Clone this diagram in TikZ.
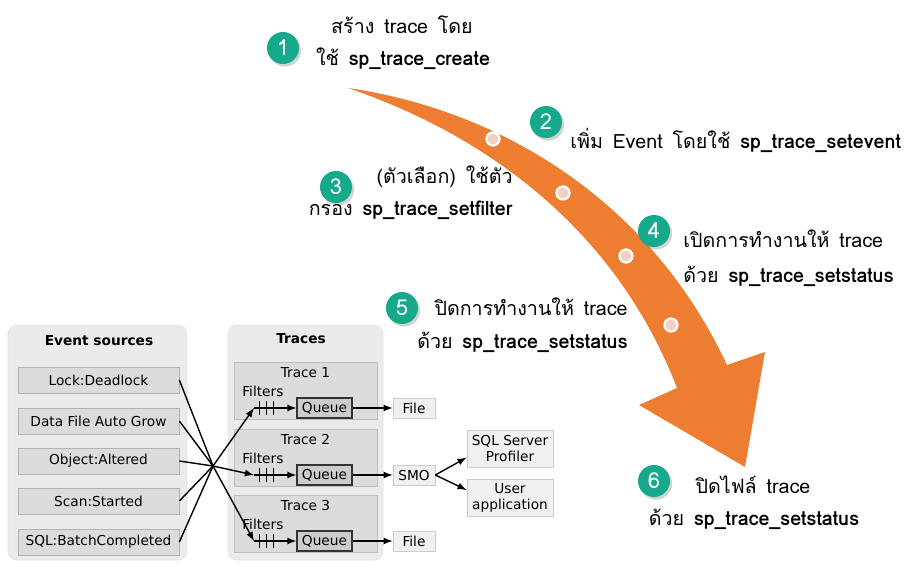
\documentclass[tikz,border=0pt]{standalone}
\usepackage{fontspec}
\newfontfamily\thaifont[Script=Thai]{Loma}
\newfontfamily\boxfont{DejaVu Sans}
\usepackage{tikz}
\usetikzlibrary{arrows, shadows}
\definecolor{flow}{HTML}{ED7D31}
\definecolor{badge}{HTML}{17A98B}
\definecolor{dotpink}{HTML}{F4CFC4}
\definecolor{panelgray}{HTML}{EBEBEB}
\definecolor{boxgray}{HTML}{DCDCDC}
\newcommand{\gap}{\hspace{0.5em}}
\tikzset{
	note/.style={font=\thaifont\fontsize{11.2}{13}\selectfont, inner sep=0pt},
	num/.style={circle, fill=badge, text=white, minimum size=0.64cm, inner sep=0pt,
		font=\thaifont\fontsize{12.5}{13}\selectfont,
		drop shadow={opacity=0.35, shadow xshift=1.2pt, shadow yshift=-1.5pt}},
	dot/.style={circle, fill=dotpink, draw=white, line width=1.3pt, minimum size=0.26cm, inner sep=0pt},
	panel/.style={rounded corners=5pt, fill=panelgray, draw=gray!20},
	src/.style={rectangle, draw=gray!60, fill=boxgray, minimum width=3.22cm, minimum height=0.52cm,
		inner sep=0pt, font=\boxfont\fontsize{7.8}{9}\selectfont},
	tracebox/.style={rectangle, draw=gray!50, fill=boxgray, minimum width=2.86cm, minimum height=1.14cm, inner sep=0pt},
	queue/.style={rectangle, draw=gray!40!black, line width=0.7pt, fill=gray!40, minimum width=1.1cm, minimum height=0.4cm,
		inner sep=0pt, font=\boxfont\fontsize{7.8}{9}\selectfont},
	target/.style={rectangle, draw=gray!40, fill=gray!12, minimum height=0.4cm, inner sep=2pt,
		align=center, font=\boxfont\fontsize{7.8}{9.5}\selectfont},
	small/.style={inner sep=0pt, font=\boxfont\fontsize{7.8}{9}\selectfont},
	title/.style={inner sep=0pt, font=\boxfont\bfseries\fontsize{7.8}{9}\selectfont},
	wire/.style={line width=0.8pt},
}

\begin{document}
\begin{tikzpicture}[x=0.02cm, y=-0.02cm]
	\useasboundingbox (0,0) rectangle (920,576);
	% the orange arrow
	\fill[flow] (348,88) .. controls (500,110) and (650,200) .. (727,365) -- (765,352) -- (745,467)
		-- (639,405) -- (677,388) .. controls (620,240) and (500,140) .. (348,88) -- cycle;
	\node[dot] (d1) at (493,139) {};
	\node[dot] (d2) at (563,193) {};
	\node[dot] (d3) at (626,256) {};
	\node[dot] (d4) at (671,325) {};
	% the numbered steps
	\node[num] (n1) at (283,48) {1};
	\node[num] (n2) at (546,122) {2};
	\node[num] (n3) at (336,187) {3};
	\node[num] (n4) at (654,231) {4};
	\node[num] (n5) at (402,308) {5};
	\node[num] (n6) at (654,481) {6};
	\node[note, anchor=base] (t1a) at (402,33) {สร้าง\gap trace\gap โดย};
	\node[note, anchor=base] (t1b) at (403,65) {ใช้\gap\textbf{sp\_trace\_create}};
	\node[note, anchor=base west] (t2) at (570,148) {เพิ่ม\gap Event\gap โดยใช้\gap\textbf{sp\_trace\_setevent}};
	\node[note, anchor=base east] (t3a) at (513,183) {(ตัวเลือก)\gap ใช้ตัว};
	\node[note, anchor=base east] (t3b) at (513,215) {กรอง\gap\textbf{sp\_trace\_setfilter}};
	\node[note, anchor=base west] (t4a) at (683,247) {เปิดการทำงานให้\gap trace};
	\node[note, anchor=base west] (t4b) at (683,282) {ด้วย\gap\textbf{sp\_trace\_setstatus}};
	\node[note, anchor=base east] (t5a) at (628,315) {ปิดการทำงานให้\gap trace};
	\node[note, anchor=base east] (t5b) at (628,348) {ด้วย\gap\textbf{sp\_trace\_setstatus}};
	\node[note, anchor=base] (t6a) at (753,493) {ปิดไฟล์\gap trace};
	\node[note, anchor=base] (t6b) at (754,525) {ด้วย\gap\textbf{sp\_trace\_setstatus}};
	% the event sources
	\draw[panel] (8,325) rectangle (187,560);
	\node[title] (evt) at (99,341) {Event sources};
	\node[src] (lock) at (98.5,380) {Lock:Deadlock};
	\node[src] (grow) at (98.5,421) {Data File Auto Grow};
	\node[src] (alter) at (98.5,461) {Object:Altered};
	\node[src] (scan) at (98.5,501) {Scan:Started};
	\node[src] (batch) at (98.5,542) {SQL:BatchCompleted};
	% the traces
	\draw[panel] (228,325) rectangle (383,560);
	\node[title] (trc) at (301,339) {Traces};
	\foreach \i/\y in {1/391,2/458,3/524}{
		\node[tracebox] (tr\i) at (305.5,\y) {};
		\node[small, anchor=north] (trt\i) at ([yshift=-0.1cm]tr\i.north) {Trace \i};
		\node[small, anchor=west] (fil\i) at (242,\y) {Filters};
		\node[queue] (q\i) at (324.5,\y+17) {Queue};
		\coordinate (f\i) at (254,\y+17);
		\draw[wire, -latex] (f\i) -- (q\i.west);
		\foreach \t in {259,266,273}
			\draw[line width=0.5pt] (\t,\y+10) -- (\t,\y+24);
	}
	\node[target, minimum width=0.84cm] (file1) at (414,408) {File};
	\node[target, minimum width=0.84cm] (smo) at (414,475) {SMO};
	\node[target, minimum width=0.84cm] (file3) at (414,541) {File};
	\node[target, minimum width=1.72cm, minimum height=0.74cm] (prof) at (510,448.5) {SQL Server\\Profiler};
	\node[target, minimum width=1.72cm, minimum height=0.74cm] (user) at (510,498) {User\\application};
	% the connectors
	\coordinate (hub) at (213,466);
	\foreach \s in {lock,grow,alter,scan,batch}
		\draw[wire] (\s.east) -- (hub);
	\foreach \i in {1,2,3}
		\draw[wire, -latex] (hub) -- (f\i);
	\draw[wire, -latex] (q1.east) -- (file1.west);
	\draw[wire, -latex] (q2.east) -- (smo.west);
	\draw[wire, -latex] (q3.east) -- (file3.west);
	\draw[wire, -latex] (smo.east) -- ([yshift=-0.18cm]prof.west);
	\draw[wire, -latex] (smo.east) -- ([yshift=0.16cm]user.west);
\end{tikzpicture}
\end{document}
